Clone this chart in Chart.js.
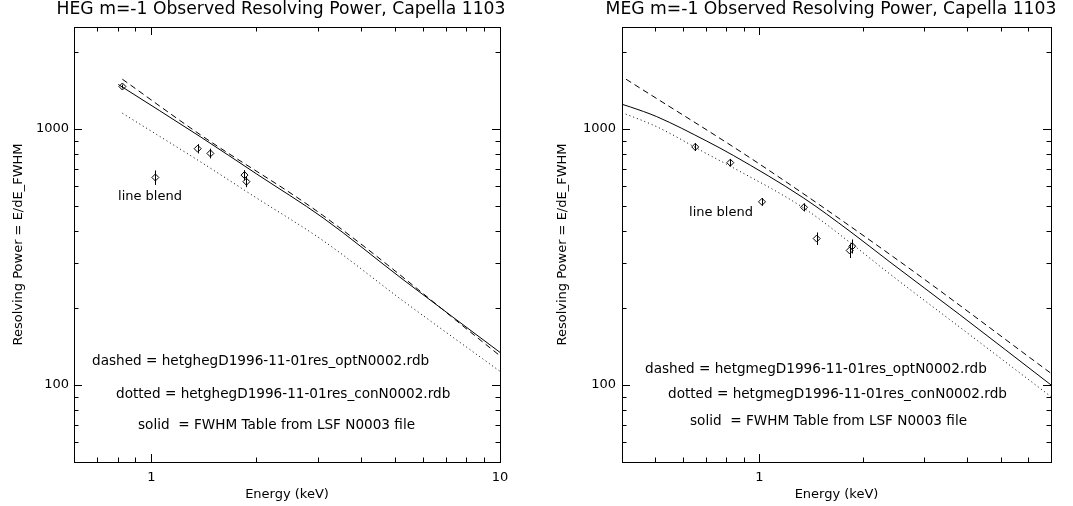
<!DOCTYPE html>
<html>
<head>
<meta charset="utf-8">
<script src="https://cdn.jsdelivr.net/npm/chart.js@4.4.1/dist/chart.umd.min.js"></script>
<style>
  body { margin: 0; background: #fff; }
  .box { position: absolute; top: 0; height: 506px; }
  #heg { left: 0; width: 540px; }
  #meg { left: 540px; width: 533px; }
</style>
</head>
<body>
<div class="box" id="heg"><canvas id="graficoHeg"></canvas></div>
<div class="box" id="meg"><canvas id="graficoMeg"></canvas></div>
<script>
// HEG panel (left)
const hegDashE = [0.826, 1.38, 3.1, 10];
const hegDashR = [1563, 950, 460, 130];
const hegDotE = [0.826, 1.38, 2.0, 3.11, 5.27, 10];
const hegDotR = [1151, 745, 538, 366, 213, 113];
const hegSolidE = [0.804, 1.38, 2.0, 3.11, 5.27, 10];
const hegSolidR = [1491, 933, 668, 449, 258, 134];
const hegPtE = [0.826, 1.358, 1.477, 1.85, 1.874, 1.027];
const hegPtR = [1464, 837, 802, 660, 622, 646];
const hegPtErr = [25, 35, 35, 30, 30, 42];

// MEG panel (right)
const megDashE = [0.411, 1.004, 2.556, 7];
const megDashR = [1563, 727, 303, 111];
const megDotE = [0.4, 0.504, 0.704, 0.84, 1.341, 1.831, 2.39, 3.81, 7];
const megDotR = [1158, 1020, 800, 705, 492, 360, 271, 168, 90];
const megSolidE = [0.4, 0.423, 0.504, 0.704, 0.84, 1.341, 1.831, 2.39, 3.81, 7];
const megSolidR = [1248, 1218, 1117, 896, 788, 538, 398, 302, 188, 100];
const megPtE = [0.652, 0.824, 1.018, 1.347, 1.466, 1.859, 1.827];
const megPtR = [850, 738, 519, 494, 373, 348, 335];
const megPtErr = [30, 25, 18, 18, 21, 22, 22];

// axis ticks
const hegMajorE = [1, 10];
const hegMinorE = [0.7, 0.8, 0.9, 2, 3, 4, 5, 6, 7, 8, 9];
const megMajorE = [1];
const megMinorE = [0.5, 0.6, 0.7, 0.8, 0.9, 2, 3, 4, 5, 6];
const majorR = [100, 1000];
const minorR = [60, 70, 80, 90, 200, 300, 400, 500, 600, 700, 800, 900, 2000];

const FONT = "DejaVu Sans";
Chart.defaults.font.family = FONT;
Chart.defaults.color = "#000";

// frame with inward ticks on all four sides
const frameTicks = {
  id: "frameTicks",
  afterDraw(chart, args, opts) {
    const { ctx, chartArea: a, scales: { x, y } } = chart;
    ctx.save();
    ctx.strokeStyle = "#000";
    ctx.lineWidth = 1;
    ctx.strokeRect(a.left + 0.5, a.top + 0.5, a.right - a.left, a.bottom - a.top);
    ctx.beginPath();
    const xt = (vals, len) => vals.forEach(v => {
      const px = Math.round(x.getPixelForValue(v)) + 0.5;
      ctx.moveTo(px, a.bottom); ctx.lineTo(px, a.bottom - len);
      ctx.moveTo(px, a.top); ctx.lineTo(px, a.top + len);
    });
    const yt = (vals, len) => vals.forEach(v => {
      const py = Math.round(y.getPixelForValue(v)) + 0.5;
      ctx.moveTo(a.left, py); ctx.lineTo(a.left + len, py);
      ctx.moveTo(a.right, py); ctx.lineTo(a.right - len, py);
    });
    xt(opts.majorX, 8); xt(opts.minorX, 4.5);
    yt(majorR, 8); yt(minorR, 4.5);
    ctx.stroke();
    ctx.restore();
  }
};

const errorBars = {
  id: "errorBars",
  afterDatasetsDraw(chart) {
    const { ctx, scales: { x, y } } = chart;
    ctx.save();
    ctx.strokeStyle = "#000";
    ctx.lineWidth = 1;
    chart.data.datasets.forEach(ds => {
      if (!ds.errors) return;
      ds.data.forEach((p, i) => {
        const px = Math.round(x.getPixelForValue(p.x)) + 0.5;
        ctx.beginPath();
        ctx.moveTo(px, y.getPixelForValue(p.y - ds.errors[i]));
        ctx.lineTo(px, y.getPixelForValue(p.y + ds.errors[i]));
        ctx.stroke();
      });
    });
    ctx.restore();
  }
};

const textMarks = {
  id: "textMarks",
  afterDraw(chart, args, opts) {
    const ctx = chart.ctx;
    ctx.save();
    ctx.fillStyle = "#000";
    ctx.textBaseline = "middle";
    ctx.font = `17.2px "${FONT}"`;
    ctx.textAlign = "center";
    ctx.fillText(opts.title, opts.titleX, 10);
    ctx.font = `13.6px "${FONT}"`;
    ctx.textAlign = "left";
    opts.notes.forEach(n => ctx.fillText(n[0], n[1], n[2]));
    ctx.font = `13px "${FONT}"`;
    ctx.textAlign = "center";
    ctx.fillText("line blend", opts.blend[0], opts.blend[1]);
    ctx.restore();
  }
};

const pts = (E, R) => E.map((e, i) => ({ x: e, y: R[i] }));
const curve = (E, R, dash) => ({
  data: pts(E, R), showLine: true, pointRadius: 0,
  borderColor: "#000", borderWidth: 1, borderDash: dash,
  cubicInterpolationMode: "monotone"
});

function panel(id, p) {
  new Chart(document.getElementById(id), {
    type: "scatter",
    data: {
      datasets: [
        curve(p.dashE, p.dashR, [6, 4]),
        curve(p.dotE, p.dotR, [1, 3]),
        curve(p.solidE, p.solidR, []),
        {
          data: pts(p.ptE, p.ptR), errors: p.ptErr,
          pointStyle: "rectRot", pointRadius: 3.5,
          pointBorderColor: "#000", pointBackgroundColor: "rgba(0,0,0,0)", pointBorderWidth: 1
        }
      ]
    },
    options: {
      responsive: true,
      maintainAspectRatio: false,
      animation: false,
      layout: { padding: { top: 27, right: p.padRight, left: 0, bottom: 0 } },
      scales: {
        x: {
          type: "logarithmic", min: p.xMin, max: p.xMax,
          afterBuildTicks: s => { s.ticks = p.majorX.map(v => ({ value: v })); },
          afterFit: s => { s.height = 44; },
          grid: { display: false, drawTicks: false },
          border: { display: false },
          ticks: { font: { size: 13 }, padding: 8, maxRotation: 0, autoSkip: false, callback: v => String(v) },
          title: { display: true, text: "Energy (keV)", font: { size: 13 }, padding: { top: 0, bottom: 4 } }
        },
        y: {
          type: "logarithmic", min: 50, max: 2500,
          afterBuildTicks: s => { s.ticks = majorR.map(v => ({ value: v })); },
          afterFit: s => { s.width = p.yWidth; },
          grid: { display: false, drawTicks: false },
          border: { display: false },
          ticks: { font: { size: 13 }, padding: p.yPad, autoSkip: false, callback: v => String(v) },
          title: { display: true, text: "Resolving Power = E/dE_FWHM", font: { size: 13 }, padding: { top: p.yTitlePad, bottom: 0 } }
        }
      },
      plugins: {
        legend: { display: false },
        tooltip: { enabled: false },
        frameTicks: { majorX: p.majorX, minorX: p.minorX },
        textMarks: { title: p.title, titleX: p.titleX, notes: p.notes, blend: p.blend }
      }
    },
    plugins: [frameTicks, errorBars, textMarks]
  });
}

panel("graficoHeg", {
  dashE: hegDashE, dashR: hegDashR, dotE: hegDotE, dotR: hegDotR,
  solidE: hegSolidE, solidR: hegSolidR, ptE: hegPtE, ptR: hegPtR, ptErr: hegPtErr,
  xMin: 0.6, xMax: 10, majorX: hegMajorE, minorX: hegMinorE,
  padRight: 40, yWidth: 74, yPad: 5, yTitlePad: 11,
  title: "HEG m=-1 Observed Resolving Power, Capella 1103", titleX: 281,
  notes: [
    ["dashed = hetghegD1996-11-01res_optN0002.rdb", 92, 361],
    ["dotted = hetghegD1996-11-01res_conN0002.rdb", 116, 394],
    ["solid  = FWHM Table from LSF N0003 file", 138, 425]
  ],
  blend: [150, 197]
});

panel("graficoMeg", {
  dashE: megDashE, dashR: megDashR, dotE: megDotE, dotR: megDotR,
  solidE: megSolidE, solidR: megSolidR, ptE: megPtE, ptR: megPtR, ptErr: megPtErr,
  xMin: 0.4, xMax: 7, majorX: megMajorE, minorX: megMinorE,
  padRight: 22, yWidth: 82, yPad: 6, yTitlePad: 15,
  title: "MEG m=-1 Observed Resolving Power, Capella 1103", titleX: 291,
  notes: [
    ["dashed = hetgmegD1996-11-01res_optN0002.rdb", 105, 369],
    ["dotted = hetgmegD1996-11-01res_conN0002.rdb", 128, 394],
    ["solid  = FWHM Table from LSF N0003 file", 150, 421]
  ],
  blend: [181, 213]
});
</script>
</body>
</html>
